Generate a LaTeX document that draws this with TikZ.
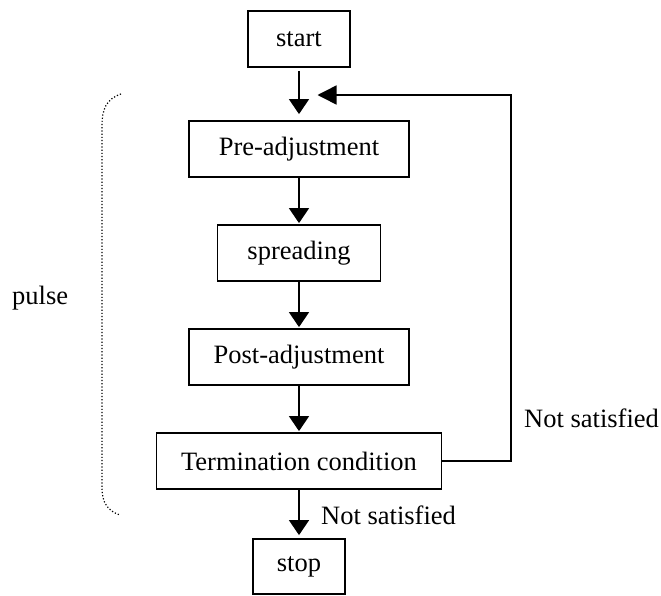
\documentclass[tikz,border=0pt]{standalone}
\usepackage{fontspec}
\setmainfont{Liberation Serif}
\usetikzlibrary{arrows.meta}
\begin{document}
\begin{tikzpicture}[x=1pt,y=-1pt,
  box/.style={draw,line width=1.8pt,inner sep=0pt,minimum height=56pt,font=\fontsize{26.5}{30}\selectfont},
  lbl/.style={inner sep=0pt,font=\fontsize{26.5}{30}\selectfont},
  arr/.style={line width=1.5pt,-{Triangle[length=15pt,width=20pt]}},
  fb/.style={line width=1.5pt,-{Triangle[length=19pt,width=19pt]}}]
\useasboundingbox (0,0) rectangle (661,595);
\node[box,minimum width=102pt] (start) at (299,39) {start};
\node[box,minimum width=220.5pt] (pre) at (299,149) {Pre-adjustment};
\node[box,minimum width=163pt] (spread) at (299,253) {spreading};
\node[box,minimum width=220.5pt] (post) at (299,357) {Post-adjustment};
\node[box,minimum width=285pt] (term) at (299,461) {Termination condition};
\node[box,minimum width=92.5pt,minimum height=55pt] (stop) at (299,566.5) {stop};
\coordinate (corner) at (511,95);
\coordinate (fbtip) at (317.5,95);
\draw[arr,shorten <=3pt,shorten >=6pt] (start) -- (pre);
\draw[arr,shorten >=1pt] (pre) -- (spread);
\draw[arr,shorten >=1pt] (spread) -- (post);
\draw[arr,shorten >=1pt] (post) -- (term);
\draw[arr,shorten >=3pt] (term) -- (stop);
\draw[fb] (term.east) -| (corner) -- (fbtip);
\node[lbl,anchor=base west] (ns1) at (321,524) {Not satisfied};
\node[lbl,anchor=base west] (ns2) at (524,427) {Not satisfied};
\node[lbl,anchor=base west] (pulse) at (12,304) {pulse};
\draw[dotted,line width=1.2pt] (121,94) .. controls (106,99) and (102,110) .. (102,125) -- (102,488) .. controls (102,503) and (108,511) .. (120,515);
\end{tikzpicture}
\end{document}
